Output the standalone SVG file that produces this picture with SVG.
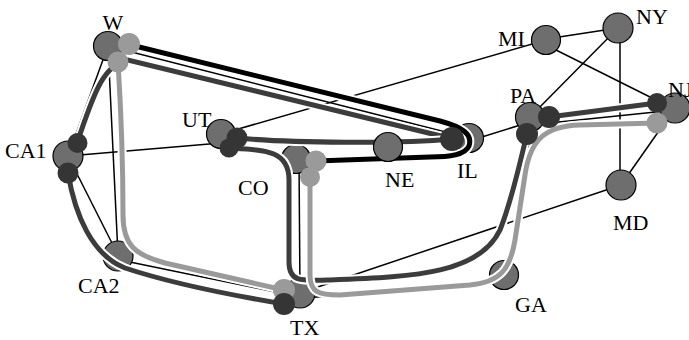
<svg xmlns="http://www.w3.org/2000/svg" width="689" height="340" viewBox="0 0 689 340">
<style>
.e{stroke:#000;stroke-width:1.5;fill:none}
.cas{stroke:#fff;stroke-width:9;fill:none;stroke-linecap:round;stroke-linejoin:round}
.pb{stroke:#000;stroke-width:5;fill:none;stroke-linecap:round}
.pd{stroke:#3c3c3c;stroke-width:5;fill:none;stroke-linecap:round}
.pl{stroke:#9a9a9a;stroke-width:5;fill:none;stroke-linecap:round}
.n{fill:#6e6e6e;stroke:#000;stroke-width:1.2}
.sd{fill:#353535}
.sl{fill:#9a9a9a}
text{font-family:"Liberation Serif","Times New Roman",serif;font-size:22px;fill:#000}
</style>
<rect width="689" height="340" fill="#fff"/>
<g id="edges">
<line class="e" x1="108" y1="46" x2="68" y2="156"/>
<line class="e" x1="108" y1="46" x2="118" y2="255"/>
<line class="e" x1="108" y1="46" x2="469" y2="138"/>
<line class="e" x1="68" y1="156" x2="221" y2="143"/>
<line class="e" x1="68" y1="156" x2="118" y2="255"/>
<line class="e" x1="125" y1="261" x2="290" y2="295"/>
<line class="e" x1="221" y1="134" x2="546" y2="40"/>
<line class="e" x1="225" y1="140" x2="296" y2="159"/>
<line class="e" x1="299" y1="160" x2="300" y2="293"/>
<line class="e" x1="305" y1="298" x2="495" y2="282"/>
<line class="e" x1="300" y1="293" x2="621" y2="185"/>
<line class="e" x1="506" y1="275" x2="532" y2="125"/>
<line class="e" x1="469" y1="141" x2="530" y2="122"/>
<line class="e" x1="530" y1="117" x2="618" y2="28"/>
<line class="e" x1="530" y1="125" x2="675" y2="110"/>
<line class="e" x1="546" y1="39" x2="618" y2="28"/>
<line class="e" x1="546" y1="45" x2="660" y2="102"/>
<line class="e" x1="620" y1="28" x2="620" y2="185"/>
<line class="e" x1="621" y1="185" x2="675" y2="108"/>
</g>
<g id="nodes">
<g id="n-W"><circle class="n" cx="108" cy="46" r="14.5"/><text x="113" y="30" text-anchor="middle">W</text></g>
<g id="n-CA1"><circle class="n" cx="68" cy="156" r="15"/><text x="5" y="158">CA1</text></g>
<g id="n-CA2"><circle class="n" cx="118" cy="256" r="15"/><text x="78" y="293">CA2</text></g>
<g id="n-UT"><circle class="n" cx="221" cy="134" r="14.5"/><text x="182" y="127">UT</text></g>
<g id="n-CO"><circle class="n" cx="296" cy="159" r="14.5"/><text x="238" y="195">CO</text></g>
<g id="n-IL"><circle class="n" cx="469" cy="138" r="14.5"/><text x="457" y="178">IL</text></g>
<g id="n-TX"><circle class="n" cx="300" cy="293" r="15"/><text x="290" y="335">TX</text></g>
<g id="n-GA"><circle class="n" cx="504" cy="275" r="14.5"/><text x="515" y="312">GA</text></g>
<g id="n-PA"><circle class="n" cx="530" cy="117" r="14.5"/><text x="510" y="103">PA</text></g>
<g id="n-NJ"><circle class="n" cx="675" cy="108" r="15"/><text x="668" y="97">NJ</text></g>
<g id="n-MI"><circle class="n" cx="546" cy="40" r="14.5"/><text x="498" y="46">MI</text></g>
<g id="n-NY"><circle class="n" cx="618" cy="28" r="15"/><text x="636" y="24">NY</text></g>
<g id="n-MD"><circle class="n" cx="621" cy="185" r="15"/><text x="613" y="230">MD</text></g>
</g>
<g id="paths">
<path class="cas" d="M68,173 C75,215 92,255 125,268 C170,283 230,295 284,304"/>
<path class="pd" d="M68,173 C75,215 92,255 125,268 C170,283 230,295 284,304"/>
<path class="cas" d="M118,62 C121,110 123,170 123,215 C123,245 135,255 165,263 L284,290"/>
<path class="pl" d="M118,62 C121,110 123,170 123,215 C123,245 135,255 165,263 L284,290"/>
<path class="cas" d="M229,148 C265,150 289,150 289,180 L289,262 C289,282 300,281 330,280 C420,277 480,272 500,230 C512,200 518,170 527,134"/>
<path class="pd" d="M229,148 C265,150 289,150 289,180 L289,262 C289,282 300,281 330,280 C420,277 480,272 500,230 C512,200 518,170 527,134"/>
<path class="cas" d="M310,177 L310,275 C310,292 318,295 340,295 L470,285 C500,282 510,270 515,240 L525,175 C530,140 545,126 580,125 L657,123"/>
<path class="pl" d="M310,177 L310,275 C310,292 318,295 340,295 L470,285 C500,282 510,270 515,240 L525,175 C530,140 545,126 580,125 L657,123"/>
<path class="cas" d="M77,143 C92,100 102,64 128,60 L445,137"/>
<path class="pd" d="M77,143 C92,100 102,64 128,60 L445,137"/>
<path class="cas" d="M237,138 C290,143 400,144 452,139"/>
<path class="pd" d="M237,138 C290,143 400,144 452,139"/>
<path class="cas" d="M127,44 L440,121 C462,127 473,134 469,146 C465,155 450,157 430,157 L316,161"/>
<path class="pb" d="M127,44 L440,121 C462,127 473,134 469,146 C465,155 450,157 430,157 L316,161"/>
<path class="cas" d="M549,117 L657,103"/>
<path class="pd" d="M549,117 L657,103"/>
</g>
<g id="n-NE"><circle class="n" cx="388" cy="147" r="14.5"/><text x="385" y="187">NE</text></g>
<g id="ends">
<circle class="sl" cx="129" cy="44" r="11"/>
<circle class="sl" cx="118" cy="62" r="10.5"/>
<circle class="sd" cx="77.5" cy="143" r="10"/>
<circle class="sd" cx="68" cy="173" r="10.5"/>
<circle class="sd" cx="237" cy="138" r="10.5"/>
<circle class="sd" cx="229" cy="148" r="9.5"/>
<circle class="sl" cx="316" cy="161" r="10.5"/>
<circle class="sl" cx="310" cy="177" r="10"/>
<circle class="sd" cx="452" cy="139" r="12"/>
<circle class="sl" cx="284" cy="290" r="11"/>
<circle class="sd" cx="284" cy="304" r="11"/>
<circle class="sd" cx="549" cy="117" r="11"/>
<circle class="sd" cx="527" cy="134" r="11"/>
<circle class="sd" cx="657" cy="103" r="10"/>
<circle class="sl" cx="657" cy="123" r="10.5"/>
</g>
</svg>
